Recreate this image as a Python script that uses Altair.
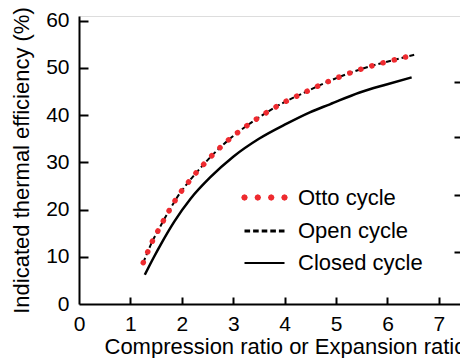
import math
import altair as alt
import pandas as pd

# ---- data ----
otto_x = [1.25, 1.336, 1.433, 1.542, 1.653, 1.77, 1.892, 2.164, 2.469, 2.80, 3.156,
          3.539, 3.934, 4.361, 4.777, 5.211, 5.652, 6.092, 6.547]
otto_y = [8.76, 11.02, 13.42, 15.62, 17.87, 20.08, 22.3, 26.29, 30.10, 33.71, 36.89,
          39.79, 42.40, 44.67, 46.79, 48.70, 50.31, 51.58, 52.85]

open_x = [1.25, 1.336, 1.433, 1.542, 1.653, 1.77, 1.892, 2.164, 2.469, 2.80, 3.156,
          3.539, 3.934, 4.361, 4.777, 5.211, 5.652, 6.092, 6.547]
open_y = [8.76, 11.02, 13.42, 15.62, 17.87, 20.08, 22.3, 26.29, 30.10, 33.71, 36.89,
          39.79, 42.40, 44.67, 46.79, 48.70, 50.31, 51.58, 52.85]

closed_x = [1.28, 1.45, 1.6, 1.85, 2.17, 2.55, 3.0, 3.5, 4.04, 4.49, 4.88, 5.46, 5.98, 6.47]
closed_y = [6.2, 9.8, 12.8, 17.4, 22.3, 26.8, 31.2, 35.0, 38.2, 40.6, 42.3, 44.8, 46.5, 48.0]

series_names = ["Otto cycle", "Open cycle", "Closed cycle"]
x_ticks = [0, 1, 2, 3, 4, 5, 6, 7]
y_ticks = [0, 10, 20, 30, 40, 50, 60]
inner_x_ticks = [1, 2, 3, 4, 5, 6, 7]
inner_y_ticks = [10, 20, 30, 40, 50, 60]
right_ticks = [11.0, 23.1, 35.4, 47.0]

FONT = "Liberation Sans"
RED = "#ee2a2f"
W, H = 382, 288

otto_df = pd.DataFrame({"x": otto_x, "y": otto_y, "series": series_names[0]})
open_df = pd.DataFrame({"x": open_x, "y": open_y, "series": series_names[1]})
closed_df = pd.DataFrame({"x": closed_x, "y": closed_y, "series": series_names[2]})
all_df = pd.concat([otto_df, open_df, closed_df], ignore_index=True)

xs = alt.Scale(domain=[0, 7.43], nice=False, zero=False)
ys = alt.Scale(domain=[0, 61], nice=False, zero=False)

closed = alt.Chart(closed_df).mark_line(
    color="black", strokeWidth=2.5, interpolate="monotone"
).encode(
    x=alt.X("x:Q", scale=xs, axis=alt.Axis(
        orient="bottom", values=x_ticks, ticks=False, grid=False, labelFlush=False,
        domainColor="black", domainWidth=2, labelFontSize=21, labelPadding=9,
        labelColor="black", labelFont=FONT,
        title="Compression ratio or Expansion ratio", titleFont=FONT, titleFontSize=22,
        titleFontWeight="normal", titleColor="black", titleX=25, titleY=49,
        titleAlign="left", titleBaseline="alphabetic")),
    y=alt.Y("y:Q", scale=ys, axis=alt.Axis(
        orient="left", values=y_ticks, ticks=False, grid=False, labelFlush=False,
        domainColor="black", domainWidth=2, labelFontSize=21, labelPadding=10,
        labelColor="black", labelFont=FONT,
        title="Indicated thermal efficiency (%)", titleFont=FONT, titleFontSize=22,
        titleFontWeight="normal", titleColor="black", titleX=-51, titleY=H / 2,
        titleAngle=270, titleAlign="center", titleBaseline="alphabetic")),
)

openc = alt.Chart(open_df).mark_line(
    color="black", strokeWidth=2, strokeDash=[5, 3], interpolate="monotone"
).encode(
    x=alt.X("x:Q", scale=xs, axis=alt.Axis(
        orient="top", offset=-H, values=inner_x_ticks, ticks=True, tickSize=7,
        tickWidth=2, tickColor="black", labels=False, domain=False, grid=False, title=None)),
    y=alt.Y("y:Q", scale=ys, axis=alt.Axis(
        orient="right", offset=-W, values=inner_y_ticks, ticks=True, tickSize=9,
        tickWidth=2, tickColor="black", labels=False, domain=False, grid=False, title=None)),
)

otto = alt.Chart(otto_df).mark_line(
    color=RED, strokeWidth=5.5, strokeDash=[0.1, 11.5], strokeCap="round",
    interpolate="monotone"
).encode(
    x=alt.X("x:Q", scale=xs, axis=None),
    y=alt.Y("y:Q", scale=ys, axis=alt.Axis(
        orient="left", offset=-W, values=right_ticks, ticks=True, tickSize=7,
        tickWidth=2, tickColor="black", labels=False, domain=False, grid=False, title=None)),
)


# legend glyph shapes (unit = 10 px)
def octagon(cx, r):
    pts = []
    for k in range(8):
        a = k * math.pi / 4
        pts.append(f"{cx + r * math.cos(a):.3f},{r * math.sin(a):.3f}")
    return "M" + "L".join(pts) + "Z"


dots_path = "".join(octagon(c, 0.1) for c in (-2.0, -0.67, 0.67, 2.0))
dash_path = "M-2,0h0.56M-1.14,0h0.56M-0.28,0h0.56M0.58,0h0.56M1.44,0h0.56"
line_path = "M-2,0H2"

legend_pts = alt.Chart(all_df).mark_point(opacity=0, size=400, filled=False).encode(
    x=alt.X("x:Q", scale=xs, axis=None),
    y=alt.Y("y:Q", scale=ys, axis=None),
    stroke=alt.Stroke("series:N", scale=alt.Scale(domain=series_names,
                      range=[RED, "black", "black"]),
                      legend=alt.Legend(title=None, orient="none", legendX=173, legendY=169,
                                        symbolSize=400,
                                        labelFontSize=22, labelFont=FONT, labelColor="black",
                                        labelOffset=21, rowPadding=10, labelLimit=300)),
    shape=alt.Shape("series:N", scale=alt.Scale(domain=series_names,
                    range=[dots_path, dash_path, line_path])),
    strokeWidth=alt.StrokeWidth("series:N", scale=alt.Scale(domain=series_names,
                                range=[4.2, 2, 2.5])),
)

chart = alt.layer(closed, openc, otto, legend_pts).resolve_axis(
    x="independent", y="independent"
).properties(
    width=W, height=H,
    autosize=alt.AutoSizeParams(type="none"),
    padding={"left": 79, "top": 16, "right": -1, "bottom": 54},
).configure_view(stroke="black", strokeWidth=2).configure(background="white")

chart.save("out.html", embed_options={"renderer": "svg", "actions": False})
